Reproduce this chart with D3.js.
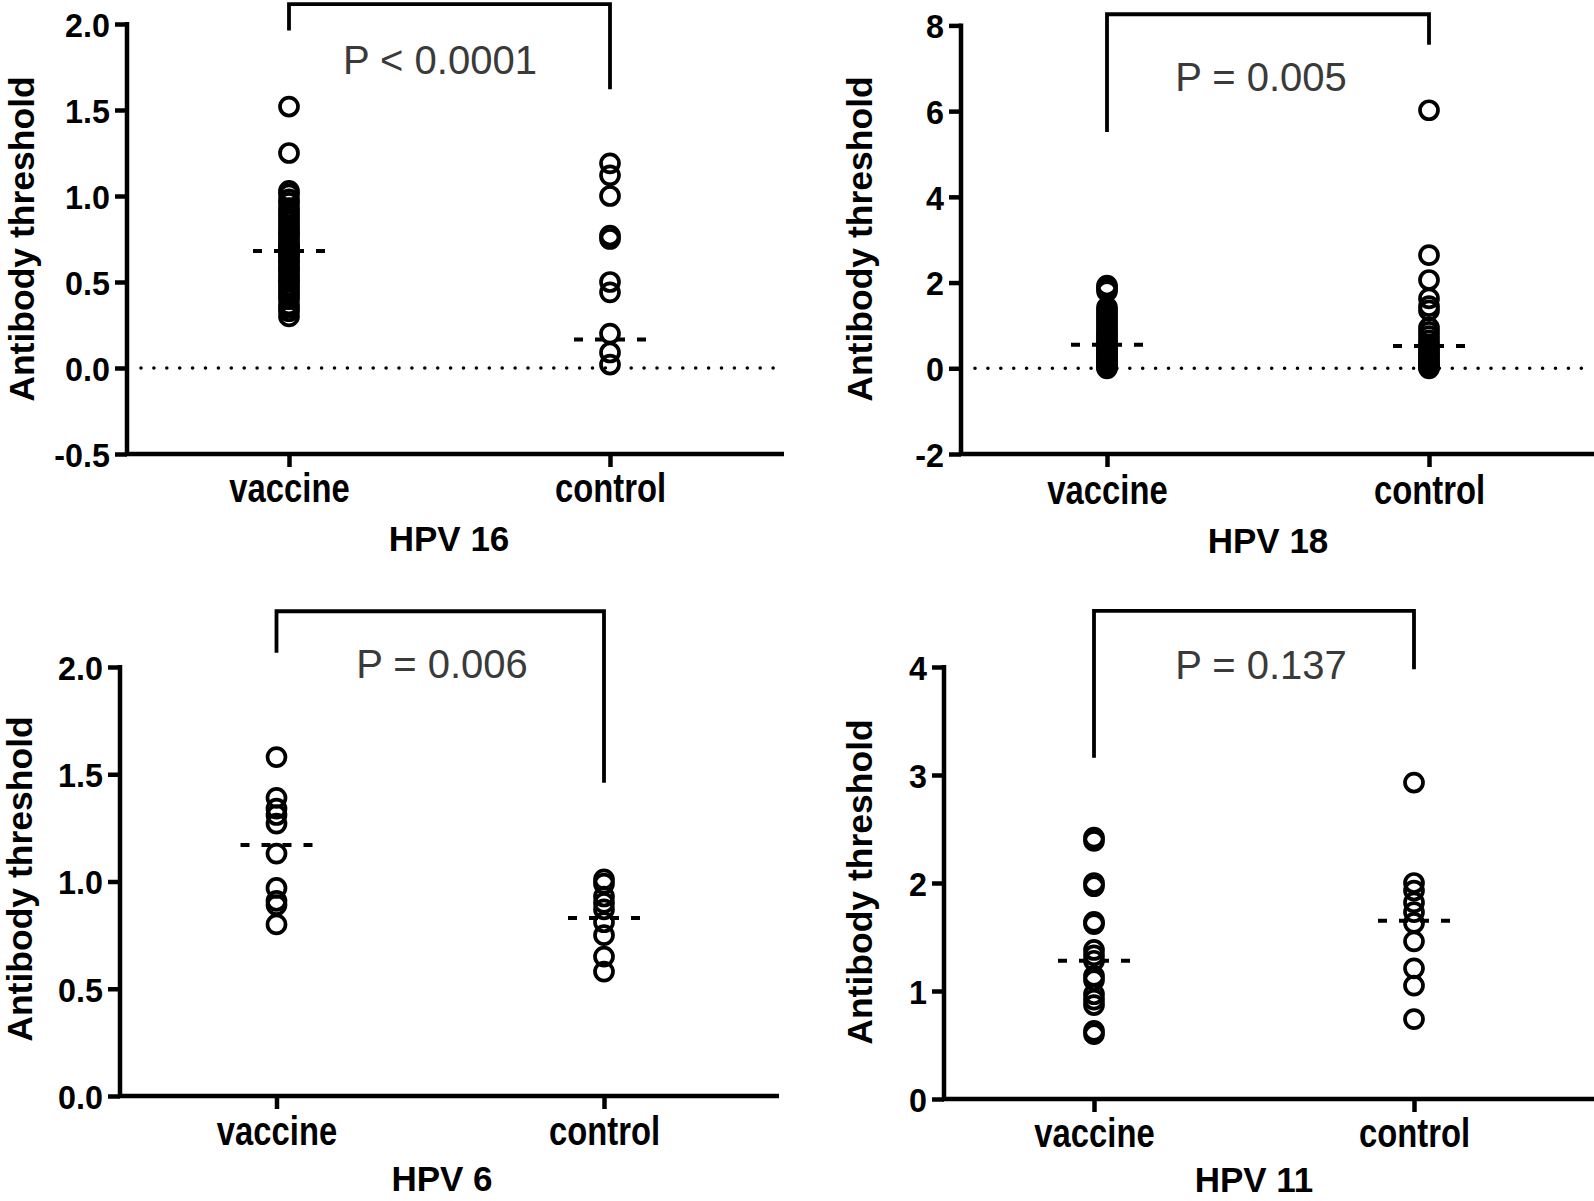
<!DOCTYPE html>
<html>
<head>
<meta charset="utf-8">
<script src="https://cdn.jsdelivr.net/npm/d3@7"></script>
<style>
  html, body { margin: 0; padding: 0; background: #fff; }
  svg { display: block; font-family: "Liberation Sans", Arial, sans-serif; }
</style>
</head>
<body>
<svg id="chart" width="1594" height="1201"></svg>
<script>
// ---------------- DATA ----------------
const categories = ["vaccine", "control"];
const panelTitles = ["HPV 16", "HPV 18", "HPV 6", "HPV 11"];
const pLabels = ["P < 0.0001", "P = 0.005", "P = 0.006", "P = 0.137"];
const yAxisTitle = "Antibody threshold";

const vaccine16 = [1.52, 1.25, 1.03, 1.01, 0.98, 0.96, 0.93, 0.91, 0.89, 0.87, 0.85, 0.83, 0.81, 0.79, 0.78, 0.76,
  0.74, 0.72, 0.71, 0.70, 0.69, 0.68, 0.67, 0.66, 0.65, 0.63, 0.62, 0.60, 0.58, 0.57, 0.55, 0.53, 0.51, 0.50,
  0.48, 0.46, 0.44, 0.42, 0.40, 0.37, 0.35, 0.33, 0.30];
const control16 = [1.19, 1.12, 1.00, 0.77, 0.75, 0.50, 0.44, 0.20, 0.09, 0.02];
const vaccine18 = [1.93, 1.87, 1.80, 1.42, 1.35, 1.28, 1.21, 1.14, 1.07, 1.00, 0.93, 0.86, 0.80, 0.74, 0.68, 0.62,
  0.57, 0.52, 0.47, 0.42, 0.37, 0.32, 0.28, 0.24, 0.20, 0.16, 0.12, 0.08, 0.05, 0.02, 0.00];
const control18 = [6.02, 2.64, 2.06, 1.63, 1.45, 1.35, 0.95, 0.85, 0.75, 0.65, 0.56, 0.48, 0.41, 0.34, 0.28,
  0.22, 0.16, 0.11, 0.06, 0.02, 0.00];
const vaccine6 = [1.58, 1.39, 1.34, 1.31, 1.27, 1.13, 0.97, 0.91, 0.89, 0.80];
const control6 = [1.01, 0.99, 0.93, 0.90, 0.87, 0.81, 0.75, 0.65, 0.58];
const vaccine11 = [2.42, 2.39, 2.00, 1.97, 1.64, 1.62, 1.38, 1.33, 1.28, 1.14, 1.10, 0.97, 0.92, 0.87, 0.63, 0.60];
const control11 = [2.93, 2.00, 1.93, 1.82, 1.73, 1.63, 1.46, 1.21, 1.05, 0.74];

// central (dashed) line values [vaccine, control]
const center16 = [0.68, 0.165];
const center18 = [0.55, 0.52];
const center6 = [1.17, 0.83];
const center11 = [1.28, 1.65];

// y ticks and labels
const yTicks16 = [-0.5, 0, 0.5, 1.0, 1.5, 2.0];
const yTickLabels16 = ["-0.5", "0.0", "0.5", "1.0", "1.5", "2.0"];
const yTicks18 = [-2, 0, 2, 4, 6, 8];
const yTickLabels18 = ["-2", "0", "2", "4", "6", "8"];
const yTicks6 = [0, 0.5, 1.0, 1.5, 2.0];
const yTickLabels6 = ["0.0", "0.5", "1.0", "1.5", "2.0"];
const yTicks11 = [0, 1, 2, 3, 4];
const yTickLabels11 = ["0", "1", "2", "3", "4"];

// significance brackets in data units [top, left leg end, right leg end]
const bracket16 = [2.116, 1.962, 1.62];
const bracket18 = [8.26, 5.51, 7.55];
const bracket6 = [2.26, 2.067, 1.46];
const bracket11 = [4.52, 3.16, 3.98];

// ---------------- LAYOUT ----------------
const panels = [
  { title: panelTitles[0], p: pLabels[0], vac: vaccine16, con: control16, center: center16,
    ticks: yTicks16, tickLabels: yTickLabels16, bracket: bracket16, domain: [-0.5, 2.0],
    axisX: 127, xRight: 784, yTop: 24, yBot: 454, vx: 289, cx: 610,
    pX: 440, pY: 74, catY: 502, titleX: 449, titleY: 551, ytX: 34, ytY: 239, zeroLine: true },
  { title: panelTitles[1], p: pLabels[1], vac: vaccine18, con: control18, center: center18,
    ticks: yTicks18, tickLabels: yTickLabels18, bracket: bracket18, domain: [-2, 8],
    axisX: 961, xRight: 1594, yTop: 25.4, yBot: 454, vx: 1107, cx: 1429,
    pX: 1261, pY: 91, catY: 504, titleX: 1268, titleY: 553, ytX: 872, ytY: 239, zeroLine: true },
  { title: panelTitles[2], p: pLabels[2], vac: vaccine6, con: control6, center: center6,
    ticks: yTicks6, tickLabels: yTickLabels6, bracket: bracket6, domain: [0, 2.0],
    axisX: 120, xRight: 779, yTop: 667, yBot: 1096, vx: 276.5, cx: 604,
    pX: 442, pY: 678, catY: 1145, titleX: 442, titleY: 1191, ytX: 32, ytY: 879, zeroLine: false },
  { title: panelTitles[3], p: pLabels[3], vac: vaccine11, con: control11, center: center11,
    ticks: yTicks11, tickLabels: yTickLabels11, bracket: bracket11, domain: [0, 4],
    axisX: 944, xRight: 1594, yTop: 667, yBot: 1099, vx: 1094, cx: 1414,
    pX: 1261, pY: 679, catY: 1147, titleX: 1254, titleY: 1192, ytX: 872, ytY: 882, zeroLine: false }
];

const svg = d3.select("#chart");

panels.forEach(P => {
  const g = svg.append("g");
  const y = d3.scaleLinear().domain(P.domain).range([P.yBot, P.yTop]);
  const x = d3.scalePoint().domain(categories).range([P.vx, P.cx]);

  // zero dotted line
  if (P.zeroLine) {
    g.append("line")
      .attr("x1", P.axisX + 14).attr("x2", P.xRight)
      .attr("y1", y(0)).attr("y2", y(0))
      .attr("stroke", "#000").attr("stroke-width", 3.6)
      .attr("stroke-linecap", "round")
      .attr("stroke-dasharray", "0,12.9");
  }

  // y axis
  const yAxis = d3.axisLeft(y)
    .tickValues(P.ticks)
    .tickFormat((d, i) => P.tickLabels[i])
    .tickSizeInner(12).tickSizeOuter(0).tickPadding(6);
  const ya = g.append("g").attr("transform", `translate(${P.axisX},0)`).call(yAxis);
  ya.select(".domain").attr("stroke", "#000").attr("stroke-width", 4.5)
    .attr("d", `M0,${P.yTop - 2}V${P.yBot + 2}`);
  ya.selectAll(".tick line").attr("stroke", "#000").attr("stroke-width", 4.5);
  ya.selectAll(".tick text")
    .attr("font-size", 34).attr("font-weight", "bold").attr("fill", "#000")
    .attr("dy", "0.36em")
    .attr("transform", "scale(0.95,1)");

  // x axis line
  g.append("line")
    .attr("x1", P.axisX - 2).attr("x2", P.xRight)
    .attr("y1", P.yBot).attr("y2", P.yBot)
    .attr("stroke", "#000").attr("stroke-width", 4.5);

  // x axis ticks & labels
  const xAxis = d3.axisBottom(x).tickSizeInner(13).tickSizeOuter(0);
  const xa = g.append("g").attr("transform", `translate(0,${P.yBot})`).call(xAxis);
  xa.select(".domain").remove();
  xa.selectAll(".tick line").attr("stroke", "#000").attr("stroke-width", 4.5);
  xa.selectAll(".tick text")
    .attr("font-size", 40).attr("font-weight", "bold").attr("fill", "#000")
    .attr("dy", null)
    .attr("y", P.catY - P.yBot)
    .attr("transform", "scale(0.82,1)");

  // y axis title
  g.append("text")
    .attr("transform", `translate(${P.ytX},${P.ytY}) rotate(-90)`)
    .attr("text-anchor", "middle")
    .attr("font-size", 35.5).attr("font-weight", "bold").attr("fill", "#000")
    .text(yAxisTitle);

  // panel title
  g.append("text")
    .attr("x", P.titleX).attr("y", P.titleY)
    .attr("text-anchor", "middle")
    .attr("font-size", 35).attr("font-weight", "bold").attr("fill", "#000")
    .text(P.title);

  // bracket
  const [bt, bl, br] = P.bracket;
  g.append("path")
    .attr("d", `M${x(categories[0])},${y(bl)}V${y(bt)}H${x(categories[1])}V${y(br)}`)
    .attr("fill", "none").attr("stroke", "#000").attr("stroke-width", 3.8);

  // p value
  g.append("text")
    .attr("x", P.pX).attr("y", P.pY)
    .attr("text-anchor", "middle")
    .attr("font-size", 40).attr("fill", "#3a3a3a")
    .text(P.p);

  // points
  const groups = [P.vac, P.con];
  groups.forEach((vals, gi) => {
    g.selectAll(null).data(vals).enter().append("circle")
      .attr("cx", x(categories[gi]))
      .attr("cy", d => y(d))
      .attr("r", 9)
      .attr("fill", "none").attr("stroke", "#000").attr("stroke-width", 3.7);
  });

  // central dashed lines
  P.center.forEach((v, gi) => {
    const cxp = x(categories[gi]);
    g.append("line")
      .attr("x1", cxp - 36).attr("x2", cxp + 36)
      .attr("y1", y(v)).attr("y2", y(v))
      .attr("stroke", "#000").attr("stroke-width", 4)
      .attr("stroke-dasharray", "9,12");
  });
});
</script>
</body>
</html>
